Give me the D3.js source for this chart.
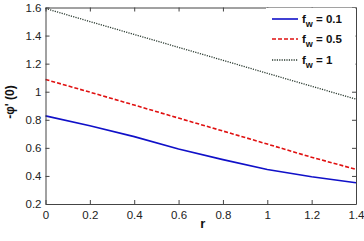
<!DOCTYPE html>
<html><head><meta charset="utf-8">
<script src="https://cdn.jsdelivr.net/npm/d3@7"></script>
<style>body{margin:0;background:#fff}svg{display:block}text{font-family:"Liberation Sans",Arial,sans-serif}</style>
</head><body>
<svg id="c" width="364" height="241"></svg>
<script>
const rValues = [0, 0.2, 0.4, 0.6, 0.8, 1.0, 1.2, 1.4];
const fw01 = [0.828, 0.757, 0.68, 0.592, 0.516, 0.446, 0.394, 0.351];
const fw05 = [1.087, 0.997, 0.905, 0.812, 0.72, 0.627, 0.533, 0.447];
const fw1 = [1.593, 1.500, 1.408, 1.316, 1.224, 1.131, 1.039, 0.947];
const seriesNames = ["0.1", "0.5", "1"];
const xTicks = [0, 0.2, 0.4, 0.6, 0.8, 1, 1.2, 1.4];
const yTicks = [0.2, 0.4, 0.6, 0.8, 1, 1.2, 1.4, 1.6];

const svg = d3.select("#c");
const L = 45.5, R = 356, T = 7.5, B = 204;
const x = d3.scaleLinear().domain([0, 1.4]).range([L, R]);
const y = d3.scaleLinear().domain([0.2, 1.6]).range([B, T]);

const styles = [
  {color: "#1010c8", dash: null, w: 1.6},
  {color: "#e01010", dash: "4,2", w: 1.6},
  {color: "#2a3a30", dash: "1.2,1.2", w: 1.3}
];
const series = [fw01, fw05, fw1];

const line = d3.line().x((d, i) => x(rValues[i])).y(d => y(d));
series.forEach((s, i) => {
  svg.append("path").datum(s).attr("d", line).attr("fill", "none")
    .attr("stroke", styles[i].color).attr("stroke-width", styles[i].w)
    .attr("stroke-dasharray", styles[i].dash);
});

// axes
const fmt = d => String(d);
const gx = svg.append("g").attr("transform", `translate(0,${B})`)
  .call(d3.axisBottom(x).tickValues(xTicks).tickFormat(fmt).tickSizeInner(-4).tickSizeOuter(0).tickPadding(7));
const gxt = svg.append("g").attr("transform", `translate(0,${T})`)
  .call(d3.axisTop(x).tickValues(xTicks).tickFormat("").tickSizeInner(-4).tickSizeOuter(0));
const gy = svg.append("g").attr("transform", `translate(${L},0)`)
  .call(d3.axisLeft(y).tickValues(yTicks).tickFormat(fmt).tickSizeInner(-4).tickSizeOuter(0).tickPadding(4));
const gyr = svg.append("g").attr("transform", `translate(${R},0)`)
  .call(d3.axisRight(y).tickValues(yTicks).tickFormat("").tickSizeInner(-4).tickSizeOuter(0));
[gx, gxt, gy, gyr].forEach(g => {
  g.selectAll("path").attr("stroke", "#444").attr("stroke-width", 1);
  g.selectAll("line").attr("stroke", "#444");
  g.selectAll("text").attr("font-size", 11.5).attr("fill", "#222");
});

// legend
const lg = svg.append("g");
lg.append("rect").attr("x", 266).attr("y", T + 0.5).attr("width", R - 266 - 0.5).attr("height", 64).attr("fill", "#fff");
const ly = [19, 39, 60];
seriesNames.forEach((n, i) => {
  lg.append("line").attr("x1", 272).attr("x2", 298).attr("y1", ly[i]).attr("y2", ly[i])
    .attr("stroke", styles[i].color).attr("stroke-width", styles[i].w).attr("stroke-dasharray", styles[i].dash);
  const t = lg.append("text").attr("x", 302).attr("y", ly[i] + 4).attr("font-size", 11.5).attr("font-weight", "bold").attr("fill", "#111");
  t.append("tspan").text("f");
  t.append("tspan").attr("dy", 4).attr("font-size", 9).text("w");
  t.append("tspan").attr("dy", -4).text(" = " + n);
});

// axis titles
svg.append("text").attr("x", (L + R) / 2 + 2).attr("y", 228).attr("text-anchor", "middle")
  .attr("font-size", 13).attr("font-weight", "bold").attr("fill", "#111").text("r");
svg.append("text").attr("transform", "translate(14,102) rotate(-90)").attr("text-anchor", "middle")
  .attr("font-size", 12).attr("font-weight", "bold").attr("fill", "#111").text("-\u03C6' (0)");
</script>
</body></html>
